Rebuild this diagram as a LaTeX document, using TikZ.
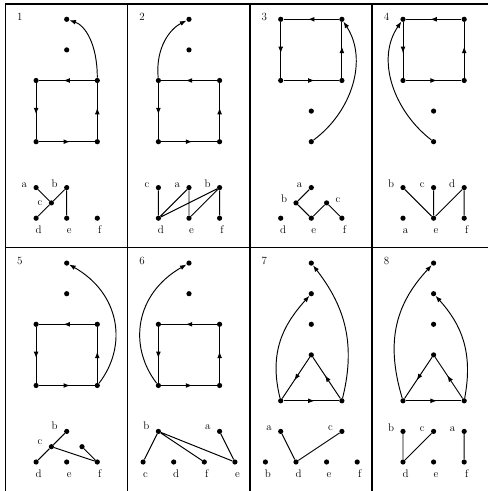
\documentclass[tikz,border=0pt]{standalone}
\usetikzlibrary{arrows.meta,decorations.markings}
\begin{document}
\begin{tikzpicture}[x=1pt,y=1pt,font=\fontsize{11}{13}\selectfont]
\useasboundingbox (0,0) rectangle (488,491);
\tikzset{
  dot/.style={circle, fill=black, inner sep=0pt, minimum size=5.2pt},
  ln/.style={line width=0.95pt},
  frm/.style={line width=1.2pt},
  marr/.style={line width=0.95pt, postaction={decorate},
    decoration={markings, mark=at position 0.56 with {\arrow{Latex[length=6.5pt,width=4.8pt]}}}},
  carr/.style={line width=0.95pt, -{Latex[length=6.5pt,width=4.8pt]}},
  ll/.style={inner sep=0pt, anchor=base east, xshift=-6pt, yshift=#1}, ll/.default=0pt,
  lr/.style={inner sep=0pt, anchor=base west, xshift=6pt, yshift=#1}, lr/.default=0pt,
  lb/.style={inner sep=0pt, anchor=base, xshift=2.5pt, yshift=#1}, lb/.default=-13pt,
  num/.style={inner sep=0pt, anchor=base west},
  panel/.style={x=30.6pt, y=30.6pt}
}
% frame
\draw[frm] (488,487) -- (5.5,487) -- (5.5,0);
\draw[frm] (127.5,487) -- (127.5,0);
\draw[frm] (250,487) -- (250,0);
\draw[frm] (372,487) -- (372,0);
\draw[frm] (5.5,243.5) -- (488,243.5);

% ---------- Panel 1
\begin{scope}[shift={(5.5pt,487pt)}, panel]
\node[num] (p1n) at (11.3pt,-16.5pt) {1};
\node[dot] (p1t) at (2,-0.5) {};
\node[dot] (p1m) at (2,-1.5) {};
\node[dot] (p1tl) at (1,-2.5) {};
\node[dot] (p1tr) at (3,-2.5) {};
\node[dot] (p1bl) at (1,-4.5) {};
\node[dot] (p1br) at (3,-4.5) {};
\draw[marr] (p1tr) -- (p1tl);
\draw[marr] (p1tl) -- (p1bl);
\draw[marr] (p1bl) -- (p1br);
\draw[marr] (p1br) -- (p1tr);
\draw[carr] (p1tr) .. controls +(0,1.2) and +(0.6,-0.2) .. (p1t);
\node[dot,label={[ll]left:a}] (p1a) at (1,-6) {};
\node[dot,label={[ll]left:b}] (p1b) at (2,-6) {};
\node[dot,label={[ll=-3pt]left:c}] (p1c) at (1.5,-6.5) {};
\node[dot,label={[lb]below:d}] (p1d) at (1,-7) {};
\node[dot,label={[lb]below:e}] (p1e) at (2,-7) {};
\node[dot,label={[lb]below:f}] (p1f) at (3,-7) {};
\draw[ln] (p1a) -- (p1c) (p1c) -- (p1b) (p1c) -- (p1d) (p1b) -- (p1e);
\end{scope}

% ---------- Panel 2
\begin{scope}[shift={(127.8pt,487pt)}, panel]
\node[num] (p2n) at (11.3pt,-16.5pt) {2};
\node[dot] (p2t) at (2,-0.5) {};
\node[dot] (p2m) at (2,-1.5) {};
\node[dot] (p2tl) at (1,-2.5) {};
\node[dot] (p2tr) at (3,-2.5) {};
\node[dot] (p2bl) at (1,-4.5) {};
\node[dot] (p2br) at (3,-4.5) {};
\draw[marr] (p2tr) -- (p2tl);
\draw[marr] (p2tl) -- (p2bl);
\draw[marr] (p2bl) -- (p2br);
\draw[marr] (p2br) -- (p2tr);
\draw[carr] (p2tl) .. controls +(-0.1,1.1) and +(-0.6,-0.3) .. (p2t);
\node[dot,label={[ll]left:c}] (p2c) at (1,-6) {};
\node[dot,label={[ll]left:a}] (p2a) at (2,-6) {};
\node[dot,label={[ll]left:b}] (p2b) at (3,-6) {};
\node[dot,label={[lb]below:d}] (p2d) at (1,-7) {};
\node[dot,label={[lb]below:e}] (p2e) at (2,-7) {};
\node[dot,label={[lb]below:f}] (p2f) at (3,-7) {};
\draw[ln] (p2c) -- (p2d) (p2d) -- (p2a) (p2d) -- (p2b) (p2a) -- (p2e) (p2e) -- (p2b) (p2b) -- (p2f);
\end{scope}

% ---------- Panel 3
\begin{scope}[shift={(250.1pt,487pt)}, panel]
\node[num] (p3n) at (11.3pt,-16.5pt) {3};
\node[dot] (p3tl) at (1,-0.5) {};
\node[dot] (p3tr) at (3,-0.5) {};
\node[dot] (p3bl) at (1,-2.5) {};
\node[dot] (p3br) at (3,-2.5) {};
\node[dot] (p3m) at (2,-3.5) {};
\node[dot] (p3bot) at (2,-4.5) {};
\draw[marr] (p3tr) -- (p3tl);
\draw[marr] (p3tl) -- (p3bl);
\draw[marr] (p3bl) -- (p3br);
\draw[marr] (p3br) -- (p3tr);
\draw[carr] (p3bot) .. controls +(1.35,1.0) and +(0.85,-1.3) .. (p3tr);
\node[dot,label={[ll]left:a}] (p3a) at (2,-6) {};
\node[dot,label={[ll]left:b}] (p3b) at (1.5,-6.5) {};
\node[dot,label={[lr]right:c}] (p3c) at (2.5,-6.5) {};
\node[dot,label={[lb]below:d}] (p3d) at (1,-7) {};
\node[dot,label={[lb]below:e}] (p3e) at (2,-7) {};
\node[dot,label={[lb]below:f}] (p3f) at (3,-7) {};
\draw[ln] (p3a) -- (p3b) (p3b) -- (p3e) (p3e) -- (p3c) (p3c) -- (p3f);
\end{scope}

% ---------- Panel 4
\begin{scope}[shift={(372.4pt,487pt)}, panel]
\node[num] (p4n) at (11.3pt,-16.5pt) {4};
\node[dot] (p4tl) at (1,-0.5) {};
\node[dot] (p4tr) at (3,-0.5) {};
\node[dot] (p4bl) at (1,-2.5) {};
\node[dot] (p4br) at (3,-2.5) {};
\node[dot] (p4m) at (2,-3.5) {};
\node[dot] (p4bot) at (2,-4.5) {};
\draw[marr] (p4tr) -- (p4tl);
\draw[marr] (p4tl) -- (p4bl);
\draw[marr] (p4bl) -- (p4br);
\draw[marr] (p4br) -- (p4tr);
\draw[carr] (p4bot) .. controls +(-1.3,1.0) and +(-0.9,-1.3) .. (p4tl);
\node[dot,label={[ll]left:b}] (p4b) at (1,-6) {};
\node[dot,label={[ll]left:c}] (p4c) at (2,-6) {};
\node[dot,label={[ll]left:d}] (p4d) at (3,-6) {};
\node[dot,label={[lb]below:a}] (p4a) at (1,-7) {};
\node[dot,label={[lb]below:e}] (p4e) at (2,-7) {};
\node[dot,label={[lb]below:f}] (p4f) at (3,-7) {};
\draw[ln] (p4b) -- (p4e) (p4c) -- (p4e) (p4d) -- (p4e) (p4d) -- (p4f);
\end{scope}

% ---------- Panel 5
\begin{scope}[shift={(5.5pt,243.2pt)}, panel]
\node[num] (p5n) at (11.3pt,-16.5pt) {5};
\node[dot] (p5t) at (2,-0.5) {};
\node[dot] (p5m) at (2,-1.5) {};
\node[dot] (p5tl) at (1,-2.5) {};
\node[dot] (p5tr) at (3,-2.5) {};
\node[dot] (p5bl) at (1,-4.5) {};
\node[dot] (p5br) at (3,-4.5) {};
\draw[marr] (p5tr) -- (p5tl);
\draw[marr] (p5tl) -- (p5bl);
\draw[marr] (p5bl) -- (p5br);
\draw[marr] (p5br) -- (p5tr);
\draw[carr] (p5br) .. controls +(1.0,1.3) and +(1.75,-1.0) .. (p5t);
\node[dot,label={[ll=1.5pt]left:b}] (p5b) at (2,-6) {};
\node[dot,label={[ll=2pt]left:c}] (p5c) at (1.5,-6.5) {};
\node[dot] (p5g) at (2.5,-6.5) {};
\node[dot,label={[lb]below:d}] (p5d) at (1,-7) {};
\node[dot,label={[lb]below:e}] (p5e) at (2,-7) {};
\node[dot,label={[lb]below:f}] (p5f) at (3,-7) {};
\draw[ln] (p5b) -- (p5c) (p5c) -- (p5d) (p5c) -- (p5f) (p5g) -- (p5f);
\end{scope}

% ---------- Panel 6
\begin{scope}[shift={(127.8pt,243.2pt)}, panel]
\node[num] (p6n) at (11.3pt,-16.5pt) {6};
\node[dot] (p6t) at (2,-0.5) {};
\node[dot] (p6m) at (2,-1.5) {};
\node[dot] (p6tl) at (1,-2.5) {};
\node[dot] (p6tr) at (3,-2.5) {};
\node[dot] (p6bl) at (1,-4.5) {};
\node[dot] (p6br) at (3,-4.5) {};
\draw[marr] (p6tr) -- (p6tl);
\draw[marr] (p6tl) -- (p6bl);
\draw[marr] (p6bl) -- (p6br);
\draw[marr] (p6br) -- (p6tr);
\draw[carr] (p6bl) .. controls +(-1.0,1.3) and +(-1.75,-1.0) .. (p6t);
\node[dot,label={[ll=1.5pt]left:b}] (p6b) at (1,-6) {};
\node[dot,label={[ll=2pt]left:a}] (p6a) at (3,-6) {};
\node[dot,label={[lb]below:c}] (p6c) at (0.5,-7) {};
\node[dot,label={[lb]below:d}] (p6d) at (1.5,-7) {};
\node[dot,label={[lb]below:f}] (p6f) at (2.5,-7) {};
\node[dot,label={[lb]below:e}] (p6e) at (3.5,-7) {};
\draw[ln] (p6b) -- (p6c) (p6b) -- (p6f) (p6b) -- (p6e) (p6a) -- (p6e);
\end{scope}

% ---------- Panel 7
\begin{scope}[shift={(250.1pt,243.2pt)}, panel]
\node[num] (p7n) at (11.3pt,-16.5pt) {7};
\node[dot] (p7n1) at (2,-0.5) {};
\node[dot] (p7n2) at (2,-1.5) {};
\node[dot] (p7n3) at (2,-2.5) {};
\node[dot] (p7ap) at (2,-3.5) {};
\node[dot] (p7bl) at (1,-5) {};
\node[dot] (p7br) at (3,-5) {};
\draw[marr] (p7bl) -- (p7br);
\draw[marr] (p7br) -- (p7ap);
\draw[marr] (p7ap) -- (p7bl);
\draw[carr] (p7bl) .. controls +(-0.4,1.6) and +(-0.9,-1.0) .. (p7n2);
\draw[carr] (p7br) .. controls +(0.5,2.0) and +(1.0,-1.3) .. (p7n1);
\node[dot,label={[ll=1pt]left:a}] (p7a) at (1,-6) {};
\node[dot,label={[ll=1pt]left:c}] (p7c) at (3,-6) {};
\node[dot,label={[lb]below:b}] (p7b) at (0.5,-7) {};
\node[dot,label={[lb]below:d}] (p7d) at (1.5,-7) {};
\node[dot,label={[lb]below:e}] (p7e) at (2.5,-7) {};
\node[dot,label={[lb]below:f}] (p7f) at (3.5,-7) {};
\draw[ln] (p7a) -- (p7d) (p7d) -- (p7c);
\end{scope}

% ---------- Panel 8
\begin{scope}[shift={(372.4pt,243.2pt)}, panel]
\node[num] (p8n) at (11.3pt,-16.5pt) {8};
\node[dot] (p8n1) at (2,-0.5) {};
\node[dot] (p8n2) at (2,-1.5) {};
\node[dot] (p8n3) at (2,-2.5) {};
\node[dot] (p8ap) at (2,-3.5) {};
\node[dot] (p8bl) at (1,-5) {};
\node[dot] (p8br) at (3,-5) {};
\draw[marr] (p8bl) -- (p8br);
\draw[marr] (p8br) -- (p8ap);
\draw[marr] (p8ap) -- (p8bl);
\draw[carr] (p8bl) .. controls +(-0.6,2.0) and +(-1.2,-1.3) .. (p8n1);
\draw[carr] (p8br) .. controls +(0.3,1.6) and +(0.9,-1.0) .. (p8n2);
\node[dot,label={[ll]left:b}] (p8b) at (1,-6) {};
\node[dot,label={[ll]left:c}] (p8c) at (2,-6) {};
\node[dot,label={[ll]left:a}] (p8a) at (3,-6) {};
\node[dot,label={[lb]below:d}] (p8d) at (1,-7) {};
\node[dot,label={[lb]below:e}] (p8e) at (2,-7) {};
\node[dot,label={[lb]below:f}] (p8f) at (3,-7) {};
\draw[ln] (p8b) -- (p8d) (p8d) -- (p8c) (p8a) -- (p8f);
\end{scope}
\end{tikzpicture}
\end{document}
